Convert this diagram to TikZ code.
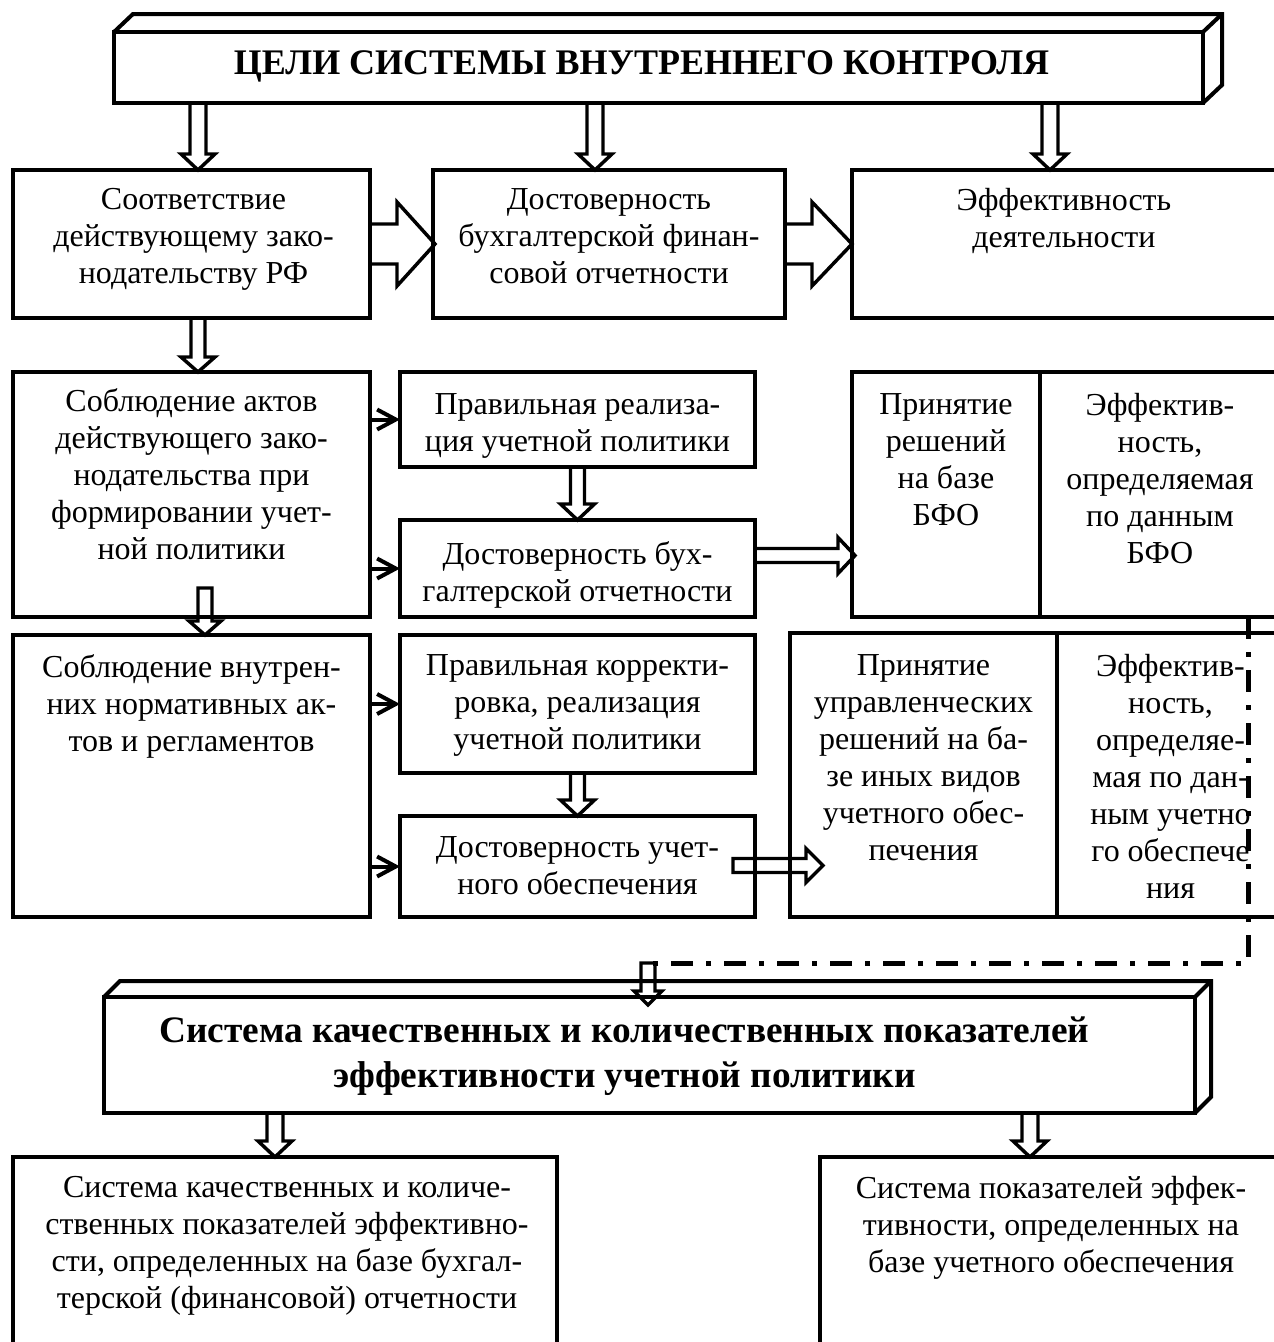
\documentclass[tikz,border=0pt]{standalone}
\usepackage{fontspec}
\setmainfont{Liberation Serif}
\usetikzlibrary{calc,arrows.meta}
\newcommand\pxu{0.75pt}
% hollow block arrow downwards: #1 start (y), #2 end (x,y), #3 shaft half, #4 head half, #5 head length (px)
\newcommand\hdown[5]{%
  \draw[harrow] let \p1=(#1), \p2=(#2) in
   (\x2-#3*\pxu,\y1) -- (\x2-#3*\pxu,\y2+#5*\pxu) -- (\x2-#4*\pxu,\y2+#5*\pxu) -- (\x2,\y2)
   -- (\x2+#4*\pxu,\y2+#5*\pxu) -- (\x2+#3*\pxu,\y2+#5*\pxu) -- (\x2+#3*\pxu,\y1) -- cycle;}
% hollow block arrow to the right: #1 start (x,y), #2 end (x)
\newcommand\hright[5]{%
  \draw[harrow] let \p1=(#1), \p2=(#2) in
   (\x1,\y1+#3*\pxu) -- (\x2-#5*\pxu,\y1+#3*\pxu) -- (\x2-#5*\pxu,\y1+#4*\pxu) -- (\x2,\y1)
   -- (\x2-#5*\pxu,\y1-#4*\pxu) -- (\x2-#5*\pxu,\y1-#3*\pxu) -- (\x1,\y1-#3*\pxu) -- cycle;}
\newcommand\boxat[5]{%
  \node[box, minimum width={(#4-#2)*\pxu}, minimum height={(#5-#3)*\pxu}] (#1) at (#2,#3) {};}
\begin{document}
\begin{tikzpicture}[x=0.75pt,y=-0.75pt,
  box/.style={draw, line width=3pt, rectangle, inner sep=0pt, outer sep=0pt, anchor=north west},
  boxline/.style={line width=3pt, line join=miter},
  harrow/.style={draw, line width=2.6pt, line join=miter},
  sarrow/.style={line width=3pt, -{Straight Barb[length=14pt,width=15pt]}},
  dashdotline/.style={line width=3.75pt, dash pattern=on 16.5pt off 9.75pt on 3.75pt off 9.75pt},
  txt/.style={align=center, inner sep=0pt, anchor=north, font=\fontsize{24}{27.75}\selectfont,
    execute at begin node={\rule{0pt}{17pt}}},
  ttl/.style={inner sep=0pt, font=\fontsize{27}{33}\selectfont\bfseries},
  btl/.style={align=center, inner sep=0pt, anchor=north, font=\fontsize{28}{33.75}\selectfont\bfseries,
    execute at begin node={\rule{0pt}{20pt}}}]
\path[use as bounding box] (0,0) rectangle (1274,1342);
\clip (0,0) rectangle (1274,1342);

% ---------- top 3D title box ----------
\node[box, minimum width={1089*\pxu}, minimum height={71*\pxu}] (top) at (114,32) {};
\draw[boxline] (top.north west) -- ++(19,-18) -- ($(top.north east)+(19,-18)$) -- ($(top.south east)+(19,-18)$) -- (top.south east);
\draw[boxline] (top.north east) -- ++(19,-18);
\node[ttl, anchor=base] (toptxt) at ($(top.south)+(-17,-29)$) {ЦЕЛИ СИСТЕМЫ ВНУТРЕННЕГО КОНТРОЛЯ};

% ---------- row 1 ----------
\boxat{A}{13}{170}{370}{318}
\boxat{B}{433}{170}{785}{318}
\boxat{C}{852}{170}{1276}{318}
\node[txt] (At) at ($(A.north)+(2,18)$) {Соответствие\\действующему зако-\\нодательству РФ};
\node[txt] (Bt) at ($(B.north)+(0,18)$) {Достоверность\\бухгалтерской финан-\\совой отчетности};
\node[txt] (Ct) at ($(C.north)+(0,18)$) {Эффективность\\деятельности};

% ---------- row 2 ----------
\boxat{D}{13}{372}{370}{617}
\boxat{E}{400}{372}{755}{467}
\boxat{F}{400}{520}{755}{617}
\boxat{G}{852}{372}{1040}{617}
\boxat{H}{1040}{372}{1276}{617}
\node[txt] (Dt) at ($(D.north)+(0,16)$) {Соблюдение актов\\действующего зако-\\нодательства при\\формировании учет-\\ной политики};
\node[txt] (Et) at ($(E.north)+(0,21)$) {Правильная реализа-\\ция учетной политики};
\node[txt] (Ft) at ($(F.north)+(0,21)$) {Достоверность бух-\\галтерской отчетности};
\node[txt] (Gt) at ($(G.north)+(0,21)$) {Принятие\\решений\\на базе\\БФО};
\node[txt] (Ht) at ($(H.north)+(2,21)$) {Эффектив-\\ность,\\определяемая\\по данным\\БФО};

% ---------- row 3 ----------
\boxat{I}{13}{635}{370}{917}
\boxat{J}{400}{635}{755}{773}
\boxat{K}{400}{816}{755}{917}
\boxat{L}{790}{633}{1057}{917}
\boxat{M}{1057}{633}{1276}{917}
\node[txt] (It) at ($(I.north)+(0,19)$) {Соблюдение внутрен-\\них нормативных ак-\\тов и регламентов};
\node[txt] (Jt) at ($(J.north)+(0,19)$) {Правильная корректи-\\ровка, реализация\\учетной политики};
\node[txt] (Kt) at ($(K.north)+(0,20)$) {Достоверность учет-\\ного обеспечения};
\node[txt] (Lt) at ($(L.north)+(0,21)$) {Принятие\\управленческих\\решений на ба-\\зе иных видов\\учетного обес-\\печения};
\node[txt] (Mt) at ($(M.north)+(4,21)$) {Эффектив-\\ность,\\определяе-\\мая по дан-\\ным учетно\\го обеспече\\ния};

% ---------- bottom 3D box ----------
\node[box, minimum width={1091*\pxu}, minimum height={116*\pxu}] (bot) at (104,997) {};
\draw[boxline] (bot.north west) -- ++(16,-16) -- ($(bot.north east)+(16,-16)$) -- ($(bot.south east)+(16,-16)$) -- (bot.south east);
\draw[boxline] (bot.north east) -- ++(16,-16);
\node[btl] (bott) at ($(bot.north)+(-25,20)$) {Система качественных и количественных показателей\\эффективности учетной политики};

% ---------- bottom boxes ----------
\boxat{N}{13}{1157}{557}{1344}
\boxat{O}{820}{1157}{1276}{1344}
\node[txt] (Nt) at ($(N.north)+(2,19)$) {Система качественных и количе-\\ственных показателей эффективно-\\сти, определенных на базе бухгал-\\терской (финансовой) отчетности};
\node[txt] (Ot) at ($(O.north)+(3,19)$) {Система показателей эффек-\\тивности, определенных на\\базе учетного обеспечения};

% ---------- arrows ----------
\hdown{top.south}{$(A.north)+(6.5,0)$}{8}{17}{16}
\hdown{top.south}{$(B.north)+(-14,0)$}{8}{17}{16}
\hdown{top.south}{$(C.north)+(-14,0)$}{8}{17}{16}
\hright{A.east}{$(B.west)+(2,0)$}{20}{42}{38}
\hright{B.east}{C.west}{20}{42}{40}
\hdown{A.south}{$(D.north)+(6.5,0)$}{7}{17}{15}
\hdown{$(D.south)+(0,-29)$}{$(I.north)+(13.5,0)$}{7}{16}{14}
\hdown{E.south}{F.north}{7}{17}{16}
\hdown{J.south}{K.north}{7}{17}{16}
\hright{$(F.east)+(0,-13)$}{$(G.west)+(3,0)$}{7}{18}{17}
\hright{$(K.east)+(-22,-1)$}{$(L.west)+(33,0)$}{7}{17}{17}

\draw[sarrow] (D.east |- E.west) -- (E.west);
\draw[sarrow] (D.east |- F.west) -- (F.west);
\draw[sarrow] (I.east |- J.west) -- (J.west);
\draw[sarrow] (I.east |- K.west) -- (K.west);

% dash-dot collector
\coordinate (dc) at (648,963);
\coordinate (dr) at (1248,963);
\draw[dashdotline] (H.south -| dr) -- (dr) -- (dc);
\draw[dashdotline] ($(L.south)+(-6,0)$) -- ($(L.south)+(-6,0)$ |- dc);
\hdown{dc}{$(dc |- bot.north)+(0,8)$}{7}{14}{14}

\hdown{bot.south}{$(N.north)+(-10,0)$}{8}{17}{16}
\hdown{bot.south}{$(O.north)+(-18,0)$}{8}{17}{16}
\end{tikzpicture}
\end{document}
